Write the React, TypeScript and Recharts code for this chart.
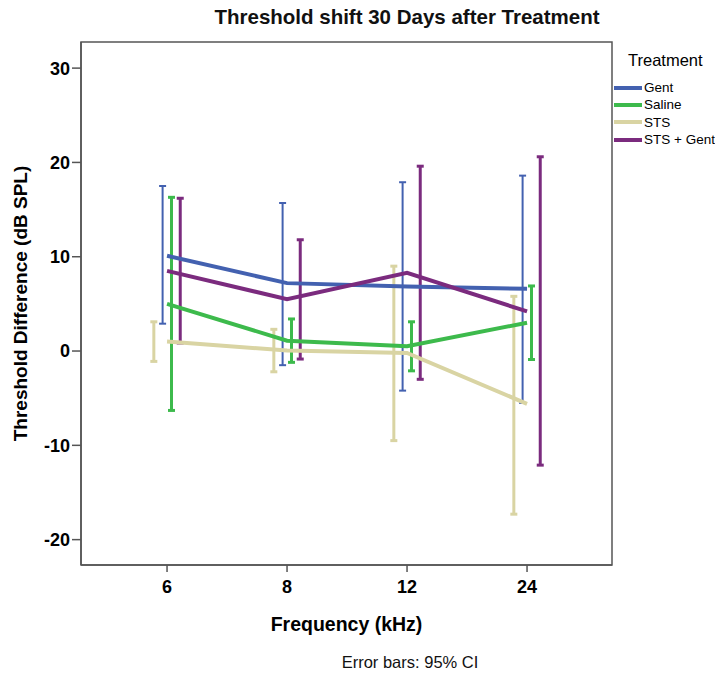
import React from 'react';
import {
  ComposedChart,
  Line,
  Scatter,
  ErrorBar,
  XAxis,
  YAxis,
  ReferenceArea,
  Label,
} from 'recharts';

// 频率类别
const frequencies = ['6', '8', '12', '24'];

// 各组平均值 (dB SPL)
const gentMean = [10.1, 7.2, 6.85, 6.6];
const salineMean = [5.0, 1.1, 0.5, 3.0];
const stsMean = [1.0, 0.05, -0.2, -5.6];
const stsGentMean = [8.5, 5.5, 8.3, 4.2];

// 95% CI 下限 / 上限
const gentLow = [2.9, -1.5, -4.2, -5.5];
const gentHigh = [17.5, 15.7, 17.9, 18.6];
const salineLow = [-6.3, -1.2, -2.1, -0.9];
const salineHigh = [16.3, 3.4, 3.1, 6.9];
const stsLow = [-1.1, -2.2, -9.5, -17.3];
const stsHigh = [3.1, 2.3, 9.0, 5.8];
const stsGentLow = [0.85, -0.85, -3.0, -12.1];
const stsGentHigh = [16.2, 11.8, 19.6, 20.6];

const yTicks = [-20, -10, 0, 10, 20, 30];

const FONT = '"Liberation Sans", Arial, sans-serif';

interface SeriesDef {
  name: string;
  color: string;
  mean: number[];
  low: number[];
  high: number[];
  dodge: number;
  barWidth: number;
}

const series: SeriesDef[] = [
  { name: 'Gent', color: '#4361b0', mean: gentMean, low: gentLow, high: gentHigh, dodge: -0.037, barWidth: 2 },
  { name: 'Saline', color: '#3dba4c', mean: salineMean, low: salineLow, high: salineHigh, dodge: 0.037, barWidth: 3 },
  { name: 'STS', color: '#d9d4a3', mean: stsMean, low: stsLow, high: stsHigh, dodge: -0.11, barWidth: 3 },
  { name: 'STS + Gent', color: '#7b2b7e', mean: stsGentMean, low: stsGentLow, high: stsGentHigh, dodge: 0.11, barWidth: 3 },
];

const lineData = (s: SeriesDef) => s.mean.map((y, i) => ({ x: i, y }));

const barData = (s: SeriesDef) =>
  s.mean.map((y, i) => ({
    x: i + s.dodge,
    y,
    err: [y - s.low[i], s.high[i] - y],
  }));

const X_DOMAIN: [number, number] = [-0.717, 3.708];
const Y_DOMAIN: [number, number] = [-22.69, 32.77];

// 自定义图例
const TreatmentLegend = () => (
  <div style={{ position: 'absolute', left: 614, top: 50, fontFamily: FONT, color: '#000', whiteSpace: 'nowrap' }}>
    <div style={{ fontSize: 16.5, marginLeft: 14, height: 20, lineHeight: '20px', marginBottom: 9 }}>Treatment</div>
    {series.map((s) => (
      <div key={s.name} style={{ display: 'flex', alignItems: 'center', height: 17.3 }}>
        <span style={{ display: 'inline-block', width: 28, height: 4, background: s.color, marginRight: 2 }} />
        <span style={{ fontSize: 13.5 }}>{s.name}</span>
      </div>
    ))}
  </div>
);

export default function App() {
  return (
    <div style={{ position: 'absolute', left: 0, top: 0, width: 715, height: 675, background: '#fff', overflow: 'hidden' }}>
      <div
        style={{
          position: 'absolute',
          top: 5,
          left: 207,
          width: 400,
          textAlign: 'center',
          fontFamily: FONT,
          fontSize: 20.5,
          fontWeight: 'bold',
          color: '#111',
          whiteSpace: 'nowrap',
        }}
      >
        Threshold shift 30 Days after Treatment
      </div>
      <ComposedChart
        width={715}
        height={675}
        margin={{ top: 42, right: 103, left: 0, bottom: 80 }}
        style={{ fontFamily: FONT }}
      >
        <XAxis
          dataKey="x"
          type="number"
          domain={X_DOMAIN}
          ticks={[0, 1, 2, 3]}
          tickFormatter={(v: number) => frequencies[v] ?? ''}
          allowDataOverflow
          height={30}
          stroke="#555"
          strokeWidth={1.5}
          tickSize={7}
          tickMargin={8}
          tick={{ fill: '#000', fontSize: 18, fontWeight: 'bold' }}
        >
          <Label
            value="Frequency (kHz)"
            position="insideBottom"
            offset={-36}
            style={{ fill: '#000', fontSize: 19.5, fontWeight: 'bold' }}
          />
        </XAxis>
        <YAxis
          type="number"
          domain={Y_DOMAIN}
          ticks={yTicks}
          allowDataOverflow
          width={81}
          stroke="#555"
          strokeWidth={1.5}
          tickSize={9}
          tickMargin={2}
          tick={{ fill: '#000', fontSize: 18, fontWeight: 'bold' }}
        >
          <Label
            value="Threshold Difference (dB SPL)"
            angle={-90}
            position="insideLeft"
            offset={20}
            style={{ textAnchor: 'middle', fill: '#000', fontSize: 19, fontWeight: 'bold' }}
          />
        </YAxis>
        <ReferenceArea
          x1={X_DOMAIN[0]}
          x2={X_DOMAIN[1]}
          y1={Y_DOMAIN[0]}
          y2={Y_DOMAIN[1]}
          fill="none"
          stroke="#555"
          strokeWidth={1.5}
        />
        {series.map((s) => (
          <Scatter
            key={`bar-${s.name}`}
            name={`${s.name} CI`}
            data={barData(s)}
            dataKey="y"
            shape={() => <g />}
            legendType="none"
            isAnimationActive={false}
          >
            <ErrorBar
              dataKey="err"
              direction="y"
              width={3.5}
              stroke={s.color}
              strokeWidth={s.barWidth}
              isAnimationActive={false}
            />
          </Scatter>
        ))}
        {series.map((s) => (
          <Line
            key={`line-${s.name}`}
            name={s.name}
            data={lineData(s)}
            dataKey="y"
            type="linear"
            stroke={s.color}
            strokeWidth={4}
            dot={false}
            activeDot={false}
            isAnimationActive={false}
          />
        ))}
      </ComposedChart>
      <TreatmentLegend />
      <div
        style={{
          position: 'absolute',
          top: 653,
          left: 310,
          width: 200,
          textAlign: 'center',
          fontFamily: FONT,
          fontSize: 16.5,
          color: '#111',
        }}
      >
        Error bars: 95% CI
      </div>
    </div>
  );
}
